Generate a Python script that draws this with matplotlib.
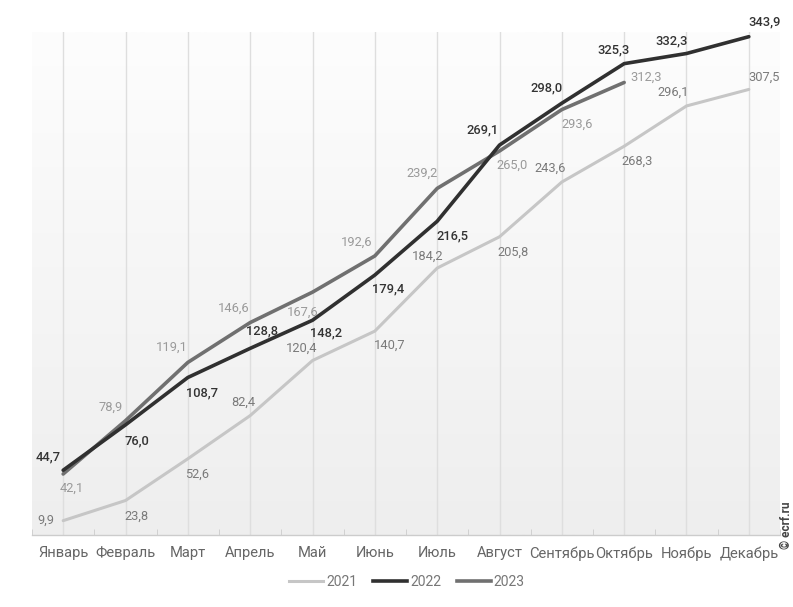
import numpy as np
import matplotlib
matplotlib.use("Agg")
import matplotlib.pyplot as plt
from matplotlib.lines import Line2D

plt.rcParams['font.family'] = ['Roboto', 'DejaVu Sans']

months = ["Январь", "Февраль", "Март", "Апрель", "Май", "Июнь", "Июль",
          "Август", "Сентябрь", "Октябрь", "Ноябрь", "Декабрь"]
years = ["2021", "2022", "2023"]
v2021 = [9.9, 23.8, 52.6, 82.4, 120.4, 140.7, 184.2, 205.8, 243.6, 268.3, 296.1, 307.5]
v2022 = [44.7, 76.0, 108.7, 128.8, 148.2, 179.4, 216.5, 269.1, 298.0, 325.3, 332.3, 343.9]
v2023 = [42.1, 78.9, 119.1, 146.6, 167.6, 192.6, 239.2, 265.0, 293.6, 312.3]

# label offsets in pixels (dx, dy) for each point
off2021 = [(-17, 0), (11, -16), (9, -15), (-7, 13), (-11, 12), (15, -14),
           (-10, 12), (14, -15), (-12, 14), (13, -15), (-13, 14), (15, 12)]
off2022 = [(-15, 13), (11, -16), (14, -15), (12, 17), (14, -13), (13, -14),
           (15, -15), (-17, 15), (-15, 15), (-11, 14), (-15, 13), (16, 15)]
off2023 = [(9, -14), (-15, 13), (-16, 15), (-16, 14), (-10, -20), (-18, 14),
           (-15, 15), (13, -14), (15, -15), (22, 5)]

W, H = 793, 607
fig = plt.figure(figsize=(W / 100, H / 100), dpi=100)
fig.patch.set_facecolor("white")

left, right, top, bottom = 32, 780, 32, 535
ax = fig.add_axes([left / W, 1 - bottom / H, (right - left) / W, (bottom - top) / H])
ymax = (bottom - top) / 1.449

# soft vertical gradient background, darker towards the baseline
grad = np.linspace(0, 1, 256).reshape(-1, 1)
cmap = matplotlib.colors.LinearSegmentedColormap.from_list("bg", ["#eeeeee", "#fdfdfd"])
ax.imshow(grad, aspect="auto", cmap=cmap, origin="lower",
          extent=(-0.5, 11.5, 0, ymax), zorder=0)
ax.set_xlim(-0.5, 11.5)
ax.set_ylim(0, ymax)

x = np.arange(len(months))
for xi in x:
    ax.axvline(xi, color="#dedede", lw=1, zorder=1)

c21, c22, c23 = "#c6c6c6", "#303030", "#707070"
ax.plot(x, v2021, color=c21, lw=2.2, zorder=3, solid_capstyle="round")
ax.plot(x[:len(v2023)], v2023, color=c23, lw=2.6, zorder=4, solid_capstyle="round")
ax.plot(x, v2022, color=c22, lw=2.6, zorder=5, solid_capstyle="round")


def fmt(v):
    return f"{v:.1f}".replace(".", ",")


for vals, offs, col, wt in [(v2021, off2021, "#7a7a7a", "normal"),
                             (v2023, off2023, "#9a9a9a", "normal"),
                             (v2022, off2022, "#333333", "medium")]:
    for i, (v, (dx, dy)) in enumerate(zip(vals, offs)):
        ax.annotate(fmt(v), (i, v), xytext=(dx, dy), textcoords="offset pixels",
                    ha="center", va="center", fontsize=9.3, color=col,
                    fontweight=wt, zorder=6, annotation_clip=False)

ax.set_yticks([])
ax.set_xticks(x)
ax.set_xticklabels(months, fontsize=10.6, color="#666666")
ax.set_xticks(np.arange(-0.5, 12, 1), minor=True)
ax.tick_params(axis="x", which="major", length=0, pad=8)
ax.tick_params(axis="x", which="minor", length=4, color="#cccccc", direction="in")
for s in ["top", "right", "left"]:
    ax.spines[s].set_visible(False)
ax.spines["bottom"].set_color("#cccccc")
ax.spines["bottom"].set_linewidth(1)

handles = [Line2D([0], [0], color=c21, lw=2.2),
           Line2D([0], [0], color=c22, lw=2.6),
           Line2D([0], [0], color=c23, lw=2.6)]
leg = fig.legend(handles, years, loc="center", bbox_to_anchor=(407 / W, 1 - 582 / H),
                 ncol=3, frameon=False, fontsize=10, handlelength=2.45,
                 handletextpad=0.2, columnspacing=1.15)
for t in leg.get_texts():
    t.set_color("#777777")

fig.text(786 / W, 1 - 525 / H, "© ecrf.ru", rotation=90, ha="center", va="center",
         fontsize=8.5, color="#444444", fontweight="bold")

fig.savefig("out.png", dpi=100)
